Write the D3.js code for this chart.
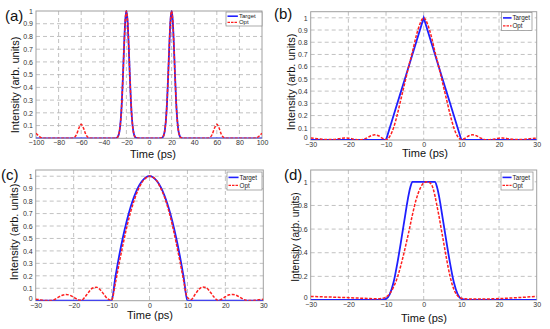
<!DOCTYPE html>
<html><head><meta charset="utf-8">
<script src="https://cdn.jsdelivr.net/npm/d3@7"></script>
<style>body{margin:0;background:#fff}svg{display:block}</style>
</head><body><svg id="c" width="550" height="329"></svg>
<script>
// ---------- DATA ----------
const aTime = [-100,-98,-96,-94,-92,-80,-70,-68,-66,-64,-62,-60,-58,-56,-54,-52,-50,-40,-30,
  -28,-27,-26,-25,-24,-23,-22,-21,-20,-19,-18,-17,-16,-15,-14,-13,-12,-10,0,10,
  12,13,14,15,16,17,18,19,20,21,22,23,24,25,26,27,28,30,40,50,52,54,56,58,60,62,64,66,68,70,80,92,94,96,98,100];
const aTarget = [0,0,0,0,0,0,0,0,0,0,0,0,0,0,0,0,0,0,0,
  0.007,0.023,0.063,0.146,0.29,0.5,0.735,0.926,1,0.926,0.735,0.5,0.29,0.146,0.063,0.023,0.007,0,0,0,
  0.007,0.023,0.063,0.146,0.29,0.5,0.735,0.926,1,0.926,0.735,0.5,0.29,0.146,0.063,0.023,0.007,0,0,0,0,0,0,0,0,0,0,0,0,0,0,0,0,0,0,0];
const aOpt = [0.04,0.022,0.008,0.002,0,0,0,0.001,0.007,0.032,0.081,0.11,0.081,0.032,0.007,0.001,0,0,0,
  0.007,0.023,0.063,0.146,0.29,0.5,0.735,0.926,1,0.926,0.735,0.5,0.29,0.146,0.063,0.023,0.007,0.002,0,0.002,
  0.007,0.023,0.063,0.146,0.29,0.5,0.735,0.926,1,0.926,0.735,0.5,0.29,0.146,0.063,0.023,0.007,0,0,0,0.001,0.007,0.032,0.081,0.11,0.081,0.032,0.007,0.001,0,0,0,0.002,0.008,0.022,0.04];

const bTime = [-30,-28,-26,-24,-22,-21,-20,-18,-17,-16,-15,-14,-13,-12,-11,-10,-9,-8,-7,-6,-5,-4,-3,-2,-1,0,
  1,2,3,4,5,6,7,8,9,10,11,12,13,14,15,16,17,18,20,21,22,24,26,28,30];
const bTarget = [0,0,0,0,0,0,0,0,0,0,0,0,0,0,0,0,0.1,0.2,0.3,0.4,0.5,0.6,0.7,0.8,0.9,1,
  0.9,0.8,0.7,0.6,0.5,0.4,0.3,0.2,0.1,0,0,0,0,0,0,0,0,0,0,0,0,0,0,0,0];
const bOpt = [0.016,0.01,0.004,0.005,0.013,0.016,0.015,0.004,0.002,0.005,0.018,0.035,0.042,0.035,0.015,0.003,0.03,0.1,0.21,0.34,0.47,0.6,0.72,0.85,0.95,1,
  0.95,0.85,0.72,0.6,0.47,0.34,0.21,0.1,0.03,0.003,0.015,0.035,0.042,0.035,0.018,0.005,0.002,0.004,0.015,0.016,0.013,0.005,0.004,0.01,0.016];

const cTime = [-30,-29,-28,-27,-26,-25,-24,-23,-22,-21,-20,-19,-18,-17,-16,-15,-14,-13,-12,-11,-10,-9,-8,-7,-6,-5,-4,-3,-2,-1,0,
  1,2,3,4,5,6,7,8,9,10,11,12,13,14,15,16,17,18,19,20,21,22,23,24,25,26,27,28,29,30];
const cTarget = [0,0,0,0,0,0,0,0,0,0,0,0,0,0,0,0,0,0,0,0,0,0.19,0.36,0.51,0.64,0.75,0.84,0.91,0.96,0.99,1,
  0.99,0.96,0.91,0.84,0.75,0.64,0.51,0.36,0.19,0,0,0,0,0,0,0,0,0,0,0,0,0,0,0,0,0,0,0,0,0];
const cOpt = [0.012,0.008,0.004,0.001,0.001,0.01,0.028,0.044,0.05,0.044,0.028,0.01,0.003,0.03,0.07,0.102,0.108,0.088,0.05,0.014,0.004,0.14,0.3,0.45,0.59,0.71,0.81,0.89,0.95,0.985,1,
  0.99,0.96,0.9,0.83,0.73,0.61,0.47,0.32,0.16,0.025,0.01,0.05,0.09,0.11,0.104,0.07,0.03,0.004,0.012,0.032,0.047,0.05,0.042,0.025,0.008,0.001,0.001,0.004,0.008,0.012];

const dTime = [-30,-25,-20,-15,-12,-11,-10,-9,-8,-7,-6,-5,-4.5,-4,-3.5,-3,-2,-1,0,1,2,3,3.5,4,4.5,5,6,7,8,9,10,11,12,15,20,25,30];
const dTarget = [0,0,0,0,0,0.003,0.01,0.05,0.15,0.31,0.5,0.7,0.8,0.89,0.96,1,1,1,1,1,1,1,0.96,0.89,0.8,0.7,0.5,0.31,0.15,0.05,0.01,0.003,0,0,0,0,0];
const dOpt = [0.03,0.025,0.02,0.013,0.01,0.014,0.025,0.055,0.11,0.19,0.3,0.43,0.5,0.57,0.645,0.72,0.85,0.94,0.99,1,0.98,0.88,0.8,0.72,0.63,0.54,0.36,0.2,0.09,0.035,0.015,0.01,0.008,0.008,0.012,0.02,0.03];

const aXTicks = [-100,-80,-60,-40,-20,0,20,40,60,80,100];
const bcdXTicks = [-30,-20,-10,0,10,20,30];
const abcYTicks = [0,0.1,0.2,0.3,0.4,0.5,0.6,0.7,0.8,0.9,1];
const dYTicks = [0,0.2,0.4,0.6,0.8,1];
const seriesNames = ["Target","Opt"];
const panelLabels = ["(a)","(b)","(c)","(d)"];
const xTitle = "Time (ps)";
const yTitle = "Intensity (arb. units)";

// ---------- LAYOUT ----------
const panels = [
  {lab:panelLabels[0], t:aTime, tg:aTarget, op:aOpt, xd:[-100,100], xt:aXTicks, yd:[0,1], yt:abcYTicks,
   x0:36, x1:262, yT:11, yB:138.3, labX:5, labY:21, ytx:15, yty:85, ytfs:11, xtx:153, xty:157.5,
   lg:{x:226, y:12, w:36, h:14, fs:6}, tgCurve:d3.curveMonotoneX},
  {lab:panelLabels[1], t:bTime, tg:bTarget, op:bOpt, xd:[-30,30], xt:bcdXTicks, yd:[0,1.05], yt:abcYTicks,
   x0:310.7, x1:536.7, yT:11.7, yB:140, labX:274, labY:19, ytx:291.5, yty:82, ytfs:11, xtx:425, xty:156.5,
   lg:{x:501.5, y:12.5, w:30.5, h:18, fs:6.3}, tgCurve:d3.curveLinear},
  {lab:panelLabels[2], t:cTime, tg:cTarget, op:cOpt, xd:[-30,30], xt:bcdXTicks, yd:[0,1.05], yt:abcYTicks,
   x0:35.7, x1:263.3, yT:170, yB:300.7, labX:1, labY:180, ytx:14.5, yty:232, ytfs:11, xtx:150, xty:319,
   lg:{x:227, y:172, w:35, h:18, fs:6.3}, tgCurve:d3.curveMonotoneX},
  {lab:panelLabels[3], t:dTime, tg:dTarget, op:dOpt, xd:[-30,30], xt:bcdXTicks, yd:[0,1.1], yt:dYTicks,
   x0:310.7, x1:536.7, yT:170, yB:300, labX:284, labY:180, ytx:295, yty:237, ytfs:10.2, xtx:424, xty:321.5,
   lg:{x:501, y:172, w:32, h:18, fs:6.3}, tgCurve:d3.curveMonotoneX}
];

const svg = d3.select("#c");
const FONT = "Liberation Sans, Arial, sans-serif";
const BLUE = "#1f1fff", RED = "#ff1f1f", GRID = "#b3b3b3", BOX = "#a0a0a0";

panels.forEach((p, i) => {
  const x = d3.scaleLinear().domain(p.xd).range([p.x0, p.x1]);
  const y = d3.scaleLinear().domain(p.yd).range([p.yB, p.yT]);
  const g = svg.append("g");

  // grid
  g.selectAll(".gy").data(p.yt.filter(v => v > 0 && y(v) > p.yT + 0.5)).enter().append("line")
    .attr("x1", p.x0).attr("x2", p.x1).attr("y1", d => y(d)).attr("y2", d => y(d))
    .attr("stroke", GRID).attr("stroke-width", 0.8).attr("stroke-dasharray", "4,3");
  g.selectAll(".gx").data(p.xt.filter(v => v > p.xd[0] && v < p.xd[1])).enter().append("line")
    .attr("x1", d => x(d)).attr("x2", d => x(d)).attr("y1", p.yT).attr("y2", p.yB)
    .attr("stroke", GRID).attr("stroke-width", 0.8).attr("stroke-dasharray", "4,3");

  // box
  g.append("rect").attr("x", p.x0).attr("y", p.yT).attr("width", p.x1 - p.x0).attr("height", p.yB - p.yT)
    .attr("fill", "none").attr("stroke", BOX).attr("stroke-width", 1);

  // axes
  const fmt = d3.format("~g");
  const ax = g.append("g").attr("transform", `translate(0,${p.yB})`)
    .call(d3.axisBottom(x).tickValues(p.xt).tickFormat(fmt).tickSize(0).tickPadding(2));
  const ay = g.append("g").attr("transform", `translate(${p.x0},0)`)
    .call(d3.axisLeft(y).tickValues(p.yt).tickFormat(fmt).tickSize(0).tickPadding(3));
  [ax, ay].forEach(a => {
    a.select(".domain").remove();
    a.selectAll("text").attr("font-family", FONT).attr("font-size", 7).attr("fill", "#333");
  });
  // lift the "0" label a little so it clears the first x label at the corner
  ay.selectAll(".tick").filter(d => d === 0).select("text").attr("dy", "-0.05em");

  // clip
  const cid = "clip" + i;
  svg.append("clipPath").attr("id", cid).append("rect")
    .attr("x", p.x0).attr("y", p.yT - 2).attr("width", p.x1 - p.x0).attr("height", p.yB - p.yT + 2);

  const pts = (vals) => p.t.map((t, k) => [t, vals[k]]);
  const lineT = d3.line().x(d => x(d[0])).y(d => y(d[1])).curve(p.tgCurve);
  const lineO = d3.line().x(d => x(d[0])).y(d => y(d[1])).curve(d3.curveMonotoneX);
  const lg = g.append("g").attr("clip-path", `url(#${cid})`);
  lg.append("path").datum(pts(p.tg)).attr("d", lineT).attr("fill", "none")
    .attr("stroke", BLUE).attr("stroke-width", 1.8);
  lg.append("path").datum(pts(p.op)).attr("d", lineO).attr("fill", "none")
    .attr("stroke", RED).attr("stroke-width", 1.5).attr("stroke-dasharray", "3,1.5");

  // legend
  const L = p.lg;
  const leg = g.append("g");
  leg.append("rect").attr("x", L.x).attr("y", L.y).attr("width", L.w).attr("height", L.h)
    .attr("fill", "#fff").attr("stroke", "#888").attr("stroke-width", 0.7);
  const rows = [L.y + L.h * 0.3, L.y + L.h * 0.74];
  const cols = [BLUE, RED];
  seriesNames.forEach((n, k) => {
    leg.append("line").attr("x1", L.x + 1.5).attr("x2", L.x + L.w * 0.33).attr("y1", rows[k]).attr("y2", rows[k])
      .attr("stroke", cols[k]).attr("stroke-width", k ? 1.3 : 1.6).attr("stroke-dasharray", k ? "2.5,1" : null);
    leg.append("text").attr("x", L.x + L.w * 0.36).attr("y", rows[k]).attr("dy", "0.35em")
      .attr("font-family", FONT).attr("font-size", L.fs).attr("fill", "#222").text(n);
  });

  // titles
  svg.append("text").attr("x", p.xtx).attr("y", p.xty).attr("text-anchor", "middle")
    .attr("font-family", FONT).attr("font-size", 11).attr("fill", "#111").text(xTitle);
  svg.append("text").attr("transform", `translate(${p.ytx},${p.yty}) rotate(-90)`)
    .attr("text-anchor", "middle").attr("dy", "0.35em")
    .attr("font-family", FONT).attr("font-size", p.ytfs).attr("fill", "#111").text(yTitle);
  svg.append("text").attr("x", p.labX).attr("y", p.labY)
    .attr("font-family", FONT).attr("font-size", 15).attr("fill", "#111").text(p.lab);
});
</script></body></html>
